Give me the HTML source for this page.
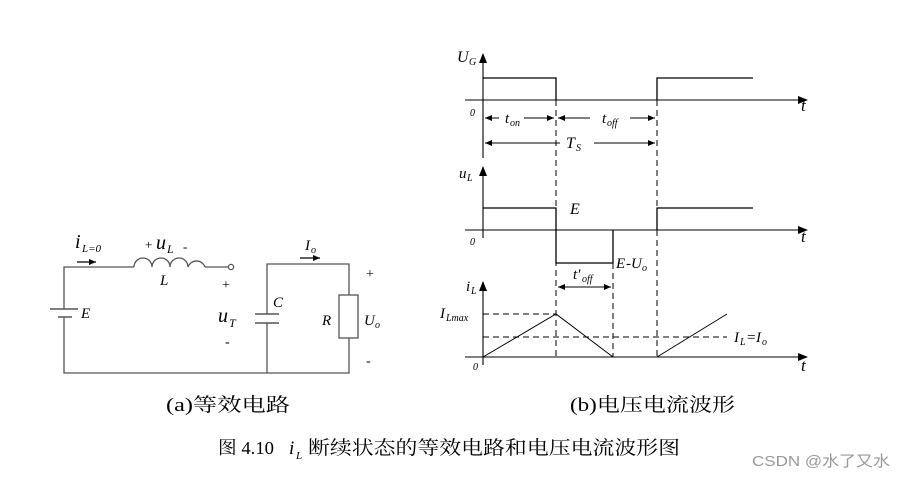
<!DOCTYPE html>
<html><head><meta charset="utf-8"><style>
html,body{margin:0;padding:0;background:#fff;}
svg{display:block;}
text{font-family:"Liberation Serif","Noto Serif CJK SC",serif;fill:#000;}
.i{font-style:italic;}
</style></head><body>
<svg width="905" height="478" viewBox="0 0 905 478" xmlns="http://www.w3.org/2000/svg">
<defs>
<marker id="ar" markerWidth="10" markerHeight="8" refX="9" refY="4" orient="auto" markerUnits="userSpaceOnUse"><path d="M0,0 L10,4 L0,8 Z" fill="#000"/></marker>
<marker id="as" markerWidth="7" markerHeight="6" refX="7" refY="3" orient="auto-start-reverse" markerUnits="userSpaceOnUse"><path d="M0,0 L7,3 L0,6 Z" fill="#000"/></marker>
</defs>
<g stroke="#555" stroke-width="1.3" fill="none">
<path d="M64,309 V267 H134"/>
<path d="M64,317 V373 H349 V338"/>
<path d="M134,267 a9,9 0 0 1 18,0 a9,9 0 0 1 18,0 a9,9 0 0 1 18,0 a9,9 0 0 1 17,0"/>
<path d="M205,267 H228"/>
<circle cx="231" cy="267" r="2.6"/>
<path d="M50,309 H78 M58,317 H72" stroke-width="1.6"/>
<path d="M267,314 V264 H349 V295 M267,323 V373"/>
<path d="M255,314 H279 M255,323 H279" stroke-width="1.6"/>
<rect x="339" y="295" width="19" height="43"/>
<path d="M77,262 H96" marker-end="url(#as)" stroke="#000"/>
<path d="M300,258 H320" marker-end="url(#as)" stroke="#000"/>
</g>
<text x="75" y="248" class="i" font-size="20">i</text><text x="82" y="252" class="i" font-size="11">L=0</text>
<text x="145" y="249" font-size="13">+</text><text x="156" y="249" class="i" font-size="20">u</text><text x="167" y="253" class="i" font-size="12">L</text><text x="183" y="251" font-size="13">-</text>
<text x="160" y="285" class="i" font-size="15">L</text>
<text x="81" y="318" class="i" font-size="15">E</text>
<text x="222" y="289" font-size="14">+</text>
<text x="218" y="322" class="i" font-size="20">u</text><text x="229" y="327" class="i" font-size="12">T</text>
<text x="225" y="346" font-size="14">-</text>
<text x="273" y="307" class="i" font-size="15">C</text>
<text x="322" y="325" class="i" font-size="15">R</text>
<text x="364" y="325" class="i" font-size="15">U</text><text x="375" y="328" class="i" font-size="10">o</text>
<text x="366" y="278" font-size="14">+</text>
<text x="366" y="365" font-size="14">-</text>
<text x="305" y="250" class="i" font-size="15">I</text><text x="311" y="253" class="i" font-size="10">o</text>

<g stroke="#000" stroke-width="1.3" fill="none">
<path d="M483,158 V54" marker-end="url(#ar)" stroke-width="1.1"/>
<path d="M465,100 H807" marker-end="url(#ar)" stroke-width="1.1"/>
<path d="M483,78 H556 V100 M657,100 V78 H753"/>
<path d="M483,238 V167" marker-end="url(#ar)" stroke-width="1.1"/>
<path d="M465,230 H807" marker-end="url(#ar)" stroke-width="1.1"/>
<path d="M483,208 H556 V263 H613 V230 M657,230 V208 H753"/>
<path d="M483,365 V282" marker-end="url(#ar)" stroke-width="1.1"/>
<path d="M465,357 H807" marker-end="url(#ar)" stroke-width="1.1"/>
<path d="M483,357 L556,314 L613,357 M657,357 L727,314" stroke-width="1"/>
<g stroke-dasharray="6,4" stroke-width="1">
<path d="M556,100 V357 M657,100 V357 M613,263 V357"/>
<path d="M483,314 H556 M483,337 H727"/>
</g>
<g stroke-width="1">
<path d="M485,118 H499" marker-start="url(#as)"/>
<path d="M524,118 H554" marker-end="url(#as)"/>
<path d="M558,118 H590" marker-start="url(#as)"/>
<path d="M630,118 H655" marker-end="url(#as)"/>
<path d="M485,143 H560" marker-start="url(#as)"/>
<path d="M594,143 H655" marker-end="url(#as)"/>
<path d="M558,287 H611" marker-start="url(#as)" marker-end="url(#as)"/>
</g>
</g>
<text x="457" y="62" class="i" font-size="16">U</text><text x="469" y="65" class="i" font-size="10">G</text>
<text x="470" y="116" class="i" font-size="10">0</text>
<text x="801" y="111" class="i" font-size="17">t</text>
<text x="505" y="123" class="i" font-size="15">t</text><text x="510" y="126" class="i" font-size="10">on</text>
<text x="602" y="123" class="i" font-size="15">t</text><text x="607" y="126" class="i" font-size="10">off</text>
<text x="566" y="148" class="i" font-size="16">T</text><text x="576" y="151" class="i" font-size="10">S</text>
<text x="459" y="178" class="i" font-size="15">u</text><text x="467" y="181" class="i" font-size="10">L</text>
<text x="570" y="214" class="i" font-size="16">E</text>
<text x="470" y="245" class="i" font-size="10">0</text>
<text x="801" y="242" class="i" font-size="17">t</text>
<text x="616" y="268" class="i" font-size="15">E</text><text x="626" y="268" font-size="15">-</text><text x="631" y="268" class="i" font-size="15">U</text><text x="642" y="271" class="i" font-size="10">o</text>
<text x="573" y="279" class="i" font-size="15">t'</text><text x="582" y="282" class="i" font-size="10">off</text>
<text x="466" y="291" class="i" font-size="15">i</text><text x="471" y="294" class="i" font-size="10">L</text>
<text x="440" y="318" class="i" font-size="15">I</text><text x="446" y="321" class="i" font-size="10">Lmax</text>
<text x="734" y="342" class="i" font-size="15">I</text><text x="740" y="345" class="i" font-size="10">L</text><text x="747" y="342" font-size="15">=</text><text x="756" y="342" class="i" font-size="15">I</text><text x="762" y="345" class="i" font-size="10">o</text>
<text x="473" y="370" class="i" font-size="10">0</text>
<text x="801" y="371" class="i" font-size="17">t</text>

<text x="166" y="411" font-size="19" textLength="124" lengthAdjust="spacingAndGlyphs">(a)等效电路</text>
<text x="570" y="411" font-size="19" textLength="165" lengthAdjust="spacingAndGlyphs">(b)电压电流波形</text>
<text x="218" y="454" font-size="18" textLength="56" lengthAdjust="spacingAndGlyphs">图 4.10</text>
<text x="289" y="454" class="i" font-size="19">i</text><text x="296" y="459" class="i" font-size="11">L</text>
<text x="308" y="454" font-size="19" textLength="372" lengthAdjust="spacingAndGlyphs">断续状态的等效电路和电压电流波形图</text>
<text x="752" y="466" font-size="15" textLength="138" lengthAdjust="spacingAndGlyphs" style="font-family:'Liberation Sans','Noto Sans CJK SC',sans-serif;fill:#999">CSDN @水了又水</text>
</svg>
</body></html>
